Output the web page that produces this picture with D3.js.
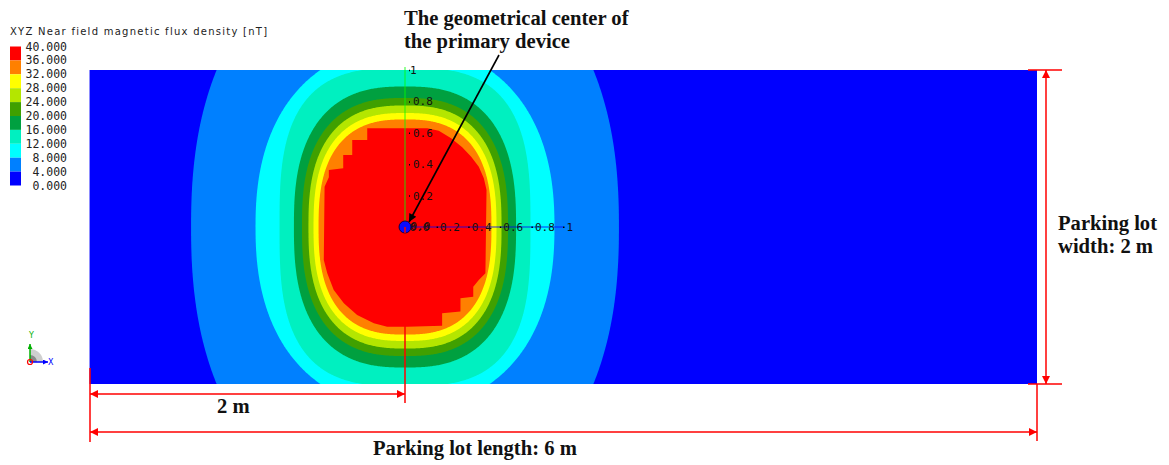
<!DOCTYPE html>
<html><head><meta charset="utf-8">
<script src="https://cdn.jsdelivr.net/npm/d3@7"></script>
<style>body{margin:0;background:#fff}svg{display:block}</style>
</head><body><svg id="c" width="1169" height="465"></svg>
<script>
// ---------- data ----------
const legendTitle = "XYZ Near field magnetic flux density [nT]";
const legendLabels = ["40.000","36.000","32.000","28.000","24.000","20.000","16.000","12.000","8.000","4.000","0.000"];
const bandColors = ["#ff0000","#ff8000","#ffff00","#b4e600","#40a000","#00a040","#00f0c0","#00ffff","#0080ff","#0000ff"];
// contour levels (nT) and their measured shape (metres, relative to the device centre)
const contourLevels = [4, 8, 12, 16, 20, 24, 28, 32];
const contourHalfLength = [1.354, 0.946, 0.794, 0.703, 0.652, 0.611, 0.579, 0.547];
const contourHalfWidth = [1.815, 1.146, 1.013, 0.895, 0.822, 0.774, 0.726, 0.685];
const contourShape = [2.3, 2.3, 3.0, 2.6, 2.6, 2.6, 2.6, 2.6];
// 36 nT core region outline (metres, relative to centre)
const coreDx = [-0.239,-0.239,-0.334,-0.334,-0.391,-0.391,-0.482,-0.482,-0.509,-0.514,-0.492,-0.451,-0.387,-0.303,-0.197,-0.113,0.014,0.235,0.235,0.351,0.351,0.432,0.432,0.467,0.509,0.516,0.499,0.467,0.419,0.362,0.292,0.214,0.141];
const coreDy = [0.629,0.554,0.554,0.459,0.459,0.374,0.363,0.317,0.257,-0.210,-0.295,-0.401,-0.486,-0.561,-0.613,-0.635,-0.635,-0.629,-0.550,-0.539,-0.454,-0.444,-0.380,-0.338,-0.295,0.236,0.310,0.384,0.448,0.508,0.565,0.613,0.629];
const axisTicks = [0.2, 0.4, 0.6, 0.8, 1];
const lotLength = 6, lotWidth = 2, centerX = 2, centerY = 0, markDist = 2;
const texts = {
  center: ["The geometrical center of", "the primary device"],
  width: ["Parking lot", "width: 2 m"],
  dist: "2 m",
  length: "Parking lot length: 6 m"
};

// ---------- scales ----------
const svg = d3.select("#c");
const x = d3.scaleLinear().domain([0, lotLength]).range([89, 1037]);
const y = d3.scaleLinear().domain([-lotWidth/2, lotWidth/2]).range([384, 70]);

const defs = svg.append("defs");
defs.append("clipPath").attr("id","plotclip").append("rect")
  .attr("x", x(0)).attr("y", y(1)).attr("width", x(lotLength)-x(0)).attr("height", y(-1)-y(1));
function marker(id, color, w, h) {
  defs.append("marker").attr("id", id).attr("viewBox","0 0 10 10")
    .attr("refX",10).attr("refY",5).attr("markerWidth",w).attr("markerHeight",h)
    .attr("markerUnits","userSpaceOnUse").attr("orient","auto-start-reverse")
    .append("path").attr("d","M0,0 L10,5 L0,10 Z").attr("fill", color);
}
marker("ar","#ff0000",11,8);
marker("ab","#000000",12,8);
marker("ag","#00b000",6,5);
marker("abl","#0000ff",6,5);

// ---------- field ----------
const field = svg.append("g").attr("clip-path","url(#plotclip)");
field.append("rect").attr("x", x(0)).attr("y", y(1)).attr("width", x(lotLength)-x(0)).attr("height", y(-1)-y(1))
  .attr("fill", bandColors[9]);
const line = d3.line().x(d => x(d[0])).y(d => y(d[1]));
contourLevels.forEach((lev, i) => {
  const a = contourHalfLength[i], b = contourHalfWidth[i], n = contourShape[i];
  const pts = d3.range(0, 720).map(k => {
    const t = k * Math.PI / 360, c = Math.cos(t), s = Math.sin(t);
    return [centerX + a * Math.sign(c) * Math.pow(Math.abs(c), 2/n),
            centerY + b * Math.sign(s) * Math.pow(Math.abs(s), 2/n)];
  });
  field.append("path").attr("d", line(pts) + "Z").attr("fill", bandColors[(36 - lev) / 4]);
});
field.append("path").attr("d", line(coreDx.map((d, i) => [centerX + d, centerY + coreDy[i]])) + "Z")
  .attr("fill", bandColors[0]);
svg.append("line").attr("x1", x(0)+0.5).attr("x2", x(0)+0.5).attr("y1", y(1)).attr("y2", y(-1))
  .attr("stroke","#8c8cff").attr("stroke-width",1);

// ---------- local axes at centre ----------
const ax = d3.scaleLinear().domain([0,1]).range([x(centerX), x(centerX+1)]);
const ay = d3.scaleLinear().domain([0,1]).range([y(centerY), y(centerY+1)]);
const smallFont = "'DejaVu Sans Mono', monospace";
svg.append("line").attr("x1", x(centerX)).attr("x2", x(centerX)).attr("y1", y(centerY)).attr("y2", 403)
  .attr("stroke","#ff0000").attr("stroke-width",1.5);
svg.append("line").attr("x1", ax(0)).attr("x2", ax(0)).attr("y1", ay(0)).attr("y2", ay(1)-3)
  .attr("stroke","#00ff00").attr("stroke-opacity",0.55).attr("stroke-width",1.5);
svg.append("line").attr("x1", ax(0)).attr("x2", ax(1)).attr("y1", ay(0)).attr("y2", ay(0))
  .attr("stroke","#0000ff").attr("stroke-opacity",0.8).attr("stroke-width",1);

const gy = svg.append("g").attr("transform", `translate(${ax(0)+4},0)`)
  .call(d3.axisRight(ay).tickValues(axisTicks).tickSize(1).tickPadding(3).tickFormat(d => d === 1 ? "1" : d3.format(".1f")(d)));
gy.select(".domain").remove();
gy.selectAll("text").attr("font-family", smallFont).attr("font-size", 11).attr("fill","#111");
gy.selectAll(".tick line").attr("stroke","#000").attr("stroke-width",1.5);
gy.selectAll(".tick").filter(d => d === 1).select("text").attr("x", 1);

const gx = svg.append("g").attr("transform", `translate(0,${ay(0)})`)
  .call(d3.axisBottom(ax).tickValues(axisTicks).tickSize(0).tickFormat(d => d === 1 ? "1" : d3.format(".1f")(d)));
gx.select(".domain").remove();
gx.selectAll("text").attr("font-family", smallFont).attr("font-size", 11).attr("fill","#111")
  .attr("text-anchor","start").attr("y", 0).attr("dy","0.35em").attr("dx", 3);
gx.selectAll(".tick").append("rect").attr("x",-0.5).attr("y",-0.5).attr("width",1.5).attr("height",1.5).attr("fill","#000");
[[4.5, 0], [5.5, -1]].forEach(o => {
  svg.append("text").attr("x", ax(0) + o[0]).attr("y", ay(0) + o[1]).attr("dy","0.35em")
    .attr("font-family", smallFont).attr("font-size", 11).attr("fill","#111").text(d3.format(".1f")(0));
});
svg.append("circle").attr("cx", ax(0)).attr("cy", ay(0)).attr("r", 6)
  .attr("fill","#0a0aff").attr("stroke","#000033").attr("stroke-width",0.8);
svg.append("line").attr("x1", ax(0)).attr("x2", ax(0)).attr("y1", ay(0)).attr("y2", ay(0)+6)
  .attr("stroke","#ff0000").attr("stroke-width",1.5);

// ---------- legend ----------
const lg = svg.append("g");
const sw = 13.9;
bandColors.forEach((c, i) => {
  lg.append("rect").attr("x",10).attr("y",46.5 + i*sw).attr("width",11).attr("height",sw).attr("fill",c);
});
legendLabels.forEach((t, i) => {
  lg.append("text").attr("x",67).attr("y",46.5 + i*sw).attr("dy","0.35em").attr("text-anchor","end")
    .attr("font-family", smallFont).attr("font-size", 11.5).attr("fill","#222").text(t);
});
const tt = lg.append("text").attr("x",10).attr("y",31).attr("dy","0.35em")
  .attr("font-family","'DejaVu Sans', sans-serif").attr("font-size",10).attr("fill","#222").text(legendTitle);
{
  const w = tt.node().getComputedTextLength();
  tt.attr("letter-spacing", ((257 - w) / (legendTitle.length - 1)).toFixed(2) + "px");
}

// ---------- axis triad icon ----------
const tri = svg.append("g");
const ox = 30, oy = 362;
tri.append("path").attr("d", d3.arc()({innerRadius:0, outerRadius:13, startAngle:0, endAngle:Math.PI/2}))
  .attr("transform",`translate(${ox},${oy})`).attr("fill","#cfcfcf");
tri.append("path").attr("d", d3.arc()({innerRadius:0, outerRadius:7, startAngle:0, endAngle:Math.PI/2}))
  .attr("transform",`translate(${ox},${oy})`).attr("fill","#8a8a8a");
tri.append("line").attr("x1",ox).attr("y1",oy).attr("x2",ox).attr("y2",oy-18).attr("stroke","#00b000").attr("stroke-width",1.5).attr("marker-end","url(#ag)");
tri.append("line").attr("x1",ox).attr("y1",oy).attr("x2",ox+18).attr("y2",oy).attr("stroke","#0000ff").attr("stroke-width",1.5).attr("marker-end","url(#abl)");
tri.append("circle").attr("cx",ox).attr("cy",oy).attr("r",2.5).attr("fill","none").attr("stroke","#ff0000").attr("stroke-width",1.2);
tri.append("text").attr("x",ox-1).attr("y",oy-24).attr("font-family","'DejaVu Sans', sans-serif").attr("font-size",8).attr("fill","#00b000").text("Y");
tri.append("text").attr("x",ox+18).attr("y",oy+3).attr("font-family","'DejaVu Sans', sans-serif").attr("font-size",8).attr("fill","#0000ff").text("X");

// ---------- dimension lines ----------
const red = "#ff0000";
const dim = svg.append("g").attr("stroke", red).attr("stroke-width", 1.5);
dim.append("line").attr("x1", x(lotLength)-9).attr("x2", x(lotLength)+25).attr("y1", y(1)).attr("y2", y(1));
dim.append("line").attr("x1", x(lotLength)-9).attr("x2", x(lotLength)+25).attr("y1", y(-1)).attr("y2", y(-1));
dim.append("line").attr("x1", x(lotLength)+9).attr("x2", x(lotLength)+9).attr("y1", y(1)).attr("y2", y(-1))
  .attr("marker-start","url(#ar)").attr("marker-end","url(#ar)");
dim.append("line").attr("x1", x(0)+1).attr("x2", x(0)+1).attr("y1", 368).attr("y2", 442);
dim.append("line").attr("x1", x(lotLength)).attr("x2", x(lotLength)).attr("y1", y(-1)).attr("y2", 441);
dim.append("line").attr("x1", x(0)+1).attr("x2", x(markDist)).attr("y1", 394).attr("y2", 394)
  .attr("marker-start","url(#ar)").attr("marker-end","url(#ar)");
dim.append("line").attr("x1", x(0)+1).attr("x2", x(lotLength)).attr("y1", 432).attr("y2", 432)
  .attr("marker-start","url(#ar)").attr("marker-end","url(#ar)");

// ---------- pointer arrow ----------
svg.append("line").attr("x1", 499).attr("y1", 55).attr("x2", ax(0)+4).attr("y2", ay(0)-5)
  .attr("stroke","#000").attr("stroke-width",1.6).attr("marker-end","url(#ab)");

// ---------- annotation texts ----------
const serif = "'Liberation Serif', serif";
const ann = svg.append("g").attr("font-family", serif).attr("font-weight","bold").attr("fill","#111");
const probe = ann.append("text").attr("font-size", 20).text(texts.length);
const fs = 20 * 204 / probe.node().getComputedTextLength();
probe.remove();
function put(t, px, py) { ann.append("text").attr("x", px).attr("y", py).attr("font-size", fs).text(t); }
put(texts.center[0], 404, 25);
put(texts.center[1], 404, 48);
put(texts.width[0], 1058, 230);
put(texts.width[1], 1058, 253);
put(texts.dist, 217, 413);
put(texts.length, 373, 455);
</script></body></html>
